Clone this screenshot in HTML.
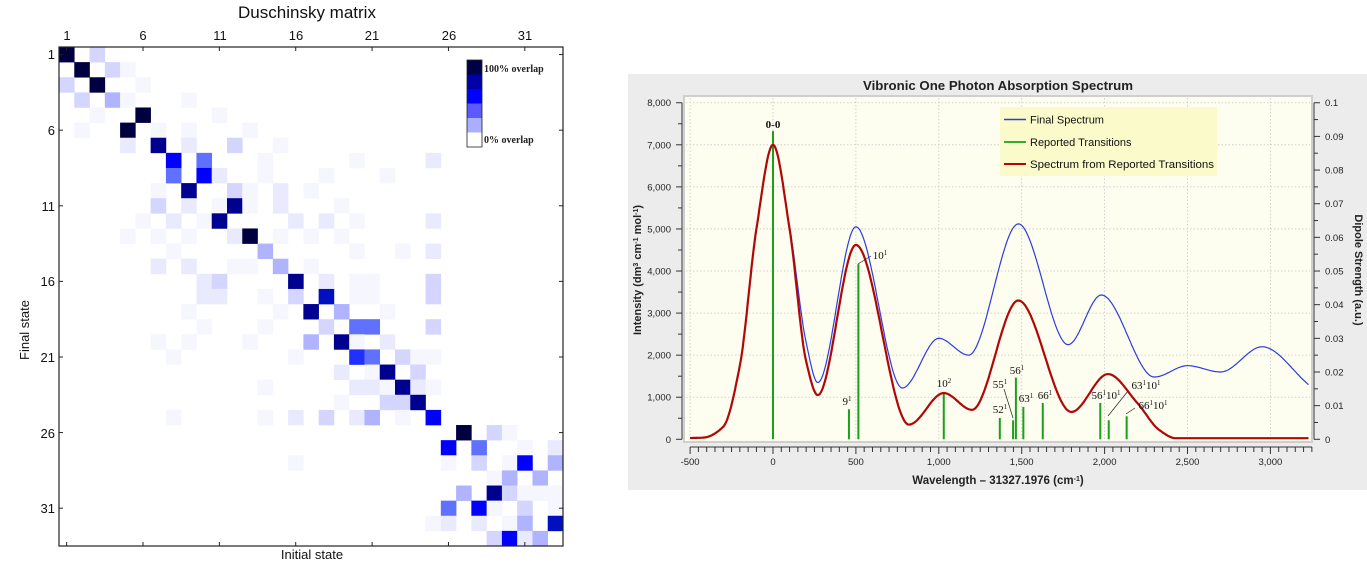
<!DOCTYPE html>
<html><head><meta charset="utf-8"><style>
html,body{margin:0;padding:0;background:#fff;width:1367px;height:563px;overflow:hidden}
svg{position:absolute;left:0;top:0}
</style></head><body>
<svg id="s" width="1367" height="563" viewBox="0 0 1367 563" xmlns="http://www.w3.org/2000/svg" font-family="Liberation Sans, sans-serif">
<text x="307" y="18" font-size="17" text-anchor="middle" fill="#111">Duschinsky matrix</text>
<g font-size="13" fill="#111" text-anchor="middle">
<text x="67" y="40">1</text><text x="143" y="40">6</text><text x="220" y="40">11</text><text x="296" y="40">16</text><text x="372" y="40">21</text><text x="449" y="40">26</text><text x="525" y="40">31</text>
</g>
<g font-size="13" fill="#111" text-anchor="end">
<text x="55" y="59">1</text><text x="55" y="135">6</text><text x="55" y="211">11</text><text x="55" y="286">16</text><text x="55" y="362">21</text><text x="55" y="438">26</text><text x="55" y="513">31</text>
</g>
<text transform="translate(29,330) rotate(-90)" font-size="13" text-anchor="middle" fill="#111">Final state</text>
<text x="312" y="559" font-size="13" text-anchor="middle" fill="#111">Initial state</text>
<g id="cells"></g>
<rect x="59" y="47" width="504" height="499" fill="none" stroke="#222" stroke-width="1.2"/>
<g id="mticks" stroke="#222" stroke-width="1"></g>
<rect x="467" y="60" width="15" height="14.5" fill="#000044"/>
<rect x="467" y="74.5" width="15" height="14.5" fill="#0000a8"/>
<rect x="467" y="89" width="15" height="14.5" fill="#0000ff"/>
<rect x="467" y="103.5" width="15" height="14.5" fill="#5a5aff"/>
<rect x="467" y="118" width="15" height="14.5" fill="#aab0ff"/>
<rect x="467" y="60" width="15" height="87" fill="none" stroke="#222" stroke-width="0.8"/>
<g font-family="Liberation Serif, serif" font-size="10" font-weight="bold" fill="#222">
<text x="484" y="72">100% overlap</text><text x="484" y="143">0% overlap</text>
</g>

<rect x="628" y="74" width="739" height="416" fill="#ececec"/>
<rect x="684" y="96" width="628" height="346" fill="#fdfdf0" stroke="#cfcfcf" stroke-width="2"/>
<text x="998" y="90" font-size="13" font-weight="bold" text-anchor="middle" fill="#222" textLength="270" lengthAdjust="spacingAndGlyphs">Vibronic One Photon Absorption Spectrum</text>
<g id="grid" stroke="#c8c8c8" stroke-width="0.8" stroke-dasharray="1.5,2"></g>
<g id="axes" stroke="#333" stroke-width="1" fill="none"></g>
<g id="ylab" font-size="9.5" fill="#222" text-anchor="end"></g>
<g id="rlab" font-size="9.5" fill="#222"></g>
<g id="xlab" font-size="9.5" fill="#222" text-anchor="middle"></g>
<text transform="translate(641,270) rotate(-90)" font-size="11" font-weight="bold" text-anchor="middle" fill="#222">Intensity (dm<tspan baseline-shift="super" font-size="7">3</tspan> cm<tspan baseline-shift="super" font-size="7">-1</tspan> mol<tspan baseline-shift="super" font-size="7">-1</tspan>)</text>
<text transform="translate(1355,270) rotate(90)" font-size="11" font-weight="bold" text-anchor="middle" fill="#222">Dipole Strength (a.u.)</text>
<text x="998" y="484" font-size="11.5" font-weight="bold" text-anchor="middle" fill="#222">Wavelength – 31327.1976  (cm<tspan baseline-shift="super" font-size="7">-1</tspan>)</text>
<g id="bars" stroke="#1aa01a" stroke-width="2"></g>
<path id="blue" fill="none" stroke="#2b3de0" stroke-width="1.2"/>
<path id="red" fill="none" stroke="#b00808" stroke-width="2.2"/>
<rect x="1000" y="107" width="217" height="69" fill="#fafacb"/>
<line x1="1004" y1="119.5" x2="1026" y2="119.5" stroke="#2b3de0" stroke-width="1.5"/>
<line x1="1004" y1="142" x2="1026" y2="142" stroke="#1aa01a" stroke-width="1.8"/>
<line x1="1004" y1="164" x2="1026" y2="164" stroke="#b00808" stroke-width="2"/>
<g font-size="11" fill="#111">
<text x="1030" y="123.5">Final Spectrum</text>
<text x="1030" y="146">Reported Transitions</text>
<text x="1030" y="168" textLength="184" lengthAdjust="spacingAndGlyphs">Spectrum from Reported Transitions</text>
</g>
<g font-family="Liberation Serif, serif" font-size="11" fill="#111" text-anchor="middle">
<text x="773" y="128" font-weight="bold">0-0</text>
<text x="847" y="405">9<tspan baseline-shift="super" font-size="7">1</tspan></text>
<text x="880" y="259">10<tspan baseline-shift="super" font-size="7">1</tspan></text>
<text x="944" y="387">10<tspan baseline-shift="super" font-size="7">2</tspan></text>
<text x="1000" y="388">55<tspan baseline-shift="super" font-size="7">1</tspan></text>
<text x="1000" y="413">52<tspan baseline-shift="super" font-size="7">1</tspan></text>
<text x="1017" y="374">56<tspan baseline-shift="super" font-size="7">1</tspan></text>
<text x="1026" y="402">63<tspan baseline-shift="super" font-size="7">1</tspan></text>
<text x="1045" y="399">66<tspan baseline-shift="super" font-size="7">1</tspan></text>
<text x="1106" y="399">56<tspan baseline-shift="super" font-size="7">1</tspan>10<tspan baseline-shift="super" font-size="7">1</tspan></text>
<text x="1146" y="389">63<tspan baseline-shift="super" font-size="7">1</tspan>10<tspan baseline-shift="super" font-size="7">1</tspan></text>
<text x="1153" y="409">66<tspan baseline-shift="super" font-size="7">1</tspan>10<tspan baseline-shift="super" font-size="7">1</tspan></text>
</g>
<g stroke="#222" stroke-width="0.7">
<line x1="858" y1="264" x2="871" y2="256"/>
<line x1="1004" y1="389" x2="1013" y2="418"/>
<line x1="1128" y1="391" x2="1108" y2="416"/>
<line x1="1135" y1="408" x2="1126" y2="414"/>
</g>
</svg>
<script>
var NS="http://www.w3.org/2000/svg";
function el(p,t,a){var e=document.createElementNS(NS,t);for(var k in a)e.setAttribute(k,a[k]);document.getElementById(p).appendChild(e);return e;}
var C={N:"#000040",D:"#000090",B:"#0000ff",M:"#6070ff",L:"#b0b4ff",P:"#d4d6ff",F:"#eaeaff",U:"#f6f6ff",K:"#0010c0",E:"#2030ff"};
var cells=[
[1,1,"N"],[1,3,"P"],
[2,2,"N"],[2,4,"P"],[2,5,"U"],
[3,1,"P"],[3,3,"N"],[3,6,"U"],
[4,2,"P"],[4,4,"L"],[4,5,"U"],[4,9,"U"],
[5,3,"U"],[5,6,"N"],[5,11,"U"],
[6,2,"U"],[6,5,"N"],[6,7,"U"],[6,9,"U"],[6,13,"U"],
[7,5,"F"],[7,7,"D"],[7,9,"F"],[7,12,"P"],[7,15,"U"],
[8,8,"B"],[8,10,"M"],[8,14,"U"],[8,20,"U"],[8,25,"F"],
[9,8,"M"],[9,10,"B"],[9,11,"F"],[9,14,"U"],[9,18,"U"],[9,22,"U"],
[10,7,"U"],[10,9,"D"],[10,12,"P"],[10,13,"U"],[10,15,"F"],[10,17,"U"],
[11,7,"P"],[11,9,"F"],[11,11,"U"],[11,12,"D"],[11,13,"U"],[11,15,"F"],[11,19,"U"],
[12,6,"U"],[12,8,"F"],[12,10,"U"],[12,11,"D"],[12,16,"F"],[12,18,"F"],[12,20,"U"],[12,25,"F"],
[13,5,"U"],[13,7,"U"],[13,9,"U"],[13,12,"F"],[13,13,"N"],[13,15,"U"],[13,17,"U"],[13,19,"U"],
[14,8,"U"],[14,14,"L"],[14,20,"U"],[14,23,"U"],[14,25,"F"],
[15,7,"F"],[15,9,"F"],[15,12,"U"],[15,13,"U"],[15,15,"L"],[15,17,"U"],
[16,10,"F"],[16,11,"P"],[16,16,"D"],[16,18,"F"],[16,20,"U"],[16,21,"U"],[16,25,"P"],
[17,10,"F"],[17,11,"F"],[17,14,"U"],[17,16,"P"],[17,18,"K"],[17,20,"U"],[17,21,"U"],[17,25,"P"],
[18,9,"U"],[18,15,"U"],[18,17,"D"],[18,19,"L"],[18,22,"U"],
[19,10,"U"],[19,14,"U"],[19,18,"P"],[19,20,"M"],[19,21,"M"],[19,25,"P"],
[20,7,"U"],[20,9,"U"],[20,13,"U"],[20,17,"L"],[20,19,"D"],[20,20,"U"],[20,22,"F"],
[21,8,"U"],[21,16,"U"],[21,20,"E"],[21,21,"M"],[21,23,"P"],[21,24,"U"],[21,25,"U"],
[22,19,"F"],[22,21,"U"],[22,22,"D"],[22,24,"P"],
[23,14,"U"],[23,20,"F"],[23,21,"F"],[23,22,"U"],[23,23,"D"],[23,24,"F"],[23,25,"U"],
[24,19,"U"],[24,22,"P"],[24,23,"P"],[24,24,"D"],
[25,8,"U"],[25,14,"U"],[25,16,"F"],[25,18,"P"],[25,20,"F"],[25,21,"L"],[25,23,"U"],[25,25,"B"],
[26,27,"N"],[26,29,"P"],[26,30,"U"],
[27,26,"B"],[27,28,"M"],[27,31,"U"],[27,33,"F"],
[28,16,"U"],[28,26,"U"],[28,28,"P"],[28,30,"U"],[28,31,"B"],[28,33,"L"],
[29,29,"U"],[29,30,"L"],[29,32,"L"],
[30,27,"L"],[30,29,"D"],[30,30,"P"],[30,31,"U"],[30,32,"U"],[30,33,"U"],
[31,26,"M"],[31,28,"B"],[31,29,"U"],[31,31,"P"],[31,33,"U"],
[32,25,"U"],[32,26,"F"],[32,28,"F"],[32,30,"U"],[32,31,"L"],[32,33,"K"],
[33,29,"P"],[33,30,"B"],[33,31,"F"],[33,32,"L"]];
var cw=504/33,ch=499/33;
cells.forEach(function(c){el("cells","rect",{x:(59+(c[1]-1)*cw).toFixed(2),y:(47+(c[0]-1)*ch).toFixed(2),width:(cw+0.3).toFixed(2),height:(ch+0.3).toFixed(2),fill:C[c[2]]});});
for(var i=0;i<7;i++){var k=1+5*i;var x=59+(k-0.5)*cw,y=47+(k-0.5)*ch;
el("mticks","line",{x1:x,y1:47,x2:x,y2:51});el("mticks","line",{x1:x,y1:546,x2:x,y2:542});
el("mticks","line",{x1:59,y1:y,x2:63,y2:y});el("mticks","line",{x1:563,y1:y,x2:559,y2:y});}
function X(v){return 773+v*0.1658;}function Y(v){return 439.3-v*0.04207;}
for(var v=1000;v<=8000;v+=1000)el("grid","line",{x1:686,x2:1310,y1:Y(v),y2:Y(v)});
for(var v=-500;v<=3000;v+=500)el("grid","line",{x1:X(v),x2:X(v),y1:98,y2:440});
el("axes","line",{x1:682,y1:Y(8000),x2:682,y2:Y(0)});
el("axes","line",{x1:1314,y1:Y(8000),x2:1314,y2:Y(0)});
el("axes","line",{x1:X(-500),y1:447,x2:X(3250),y2:447});
for(var v=0;v<=8000;v+=500){var l=v%1000==0?6:4;el("axes","line",{x1:682-l,x2:682,y1:Y(v),y2:Y(v)});
if(v%1000==0){var t=el("ylab","text",{x:671,y:Y(v)+3.5});t.textContent=v==0?"0":(v/1000)+",000";}}
for(var k=0;k<=20;k++){var yy=Y(k*400);var l=k%2==0?6:4;el("axes","line",{x1:1314,x2:1314+l,y1:yy,y2:yy});
if(k%2==0){var kk=k/2;var r=el("rlab","text",{x:1325,y:yy+3.5});r.textContent=kk==0?"0":(kk==10?"0.1":"0.0"+kk);}}
for(var v=-500;v<=3250;v+=50){var l=v%500==0?7:5;el("axes","line",{x1:X(v),x2:X(v),y1:447,y2:447+l});
if(v%500==0&&v<=3000){var t=el("xlab","text",{x:X(v),y:465});t.textContent=v<0?"-500":(v>=1000?(v/1000|0)+","+("00"+v%1000).slice(-3):v);}}
var bars=[[0,7326],[458,714],[515,4163],[1030,1126],[1368,507],[1448,452],[1465,1467],[1510,769],[1627,864],[1974,864],[2025,452],[2133,547]];
bars.forEach(function(b){el("bars","line",{x1:X(b[0]),x2:X(b[0]),y1:Y(0),y2:Y(b[1])});});
function mono(pts){var n=pts.length,xs=pts.map(p=>p[0]),ys=pts.map(p=>p[1]),d=[],m=[];
for(var i=0;i<n-1;i++)d.push((ys[i+1]-ys[i])/(xs[i+1]-xs[i]));
m[0]=d[0];m[n-1]=d[n-2];
for(var i=1;i<n-1;i++){if(d[i-1]*d[i]<=0)m[i]=0;else{var w1=2*(xs[i+1]-xs[i])+(xs[i]-xs[i-1]),w2=(xs[i+1]-xs[i])+2*(xs[i]-xs[i-1]);m[i]=(w1+w2)/(w1/d[i-1]+w2/d[i]);}}
var s="";
for(var i=0;i<n-1;i++){var h=xs[i+1]-xs[i];var steps=Math.max(2,Math.ceil(h/6));
for(var j=(i==0?0:1);j<=steps;j++){var t=j/steps,t2=t*t,t3=t2*t;
var y=(2*t3-3*t2+1)*ys[i]+(t3-2*t2+t)*h*m[i]+(-2*t3+3*t2)*ys[i+1]+(t3-t2)*h*m[i+1];var x=xs[i]+t*h;
s+=(s?" L":"M")+X(x).toFixed(1)+","+Y(y).toFixed(1);}}
return s;}
var red=[[-500,30],[-420,40],[-300,300],[-200,1750],[-100,5000],[0,7000],[100,5000],[200,1850],[270,1050],[500,4620],[820,350],[1030,1100],[1200,700],[1480,3300],[1800,650],[2020,1550],[2200,850],[2330,220],[2430,25],[3230,25]];
var blue=[[-500,30],[-420,40],[-300,300],[-200,1750],[-100,5000],[0,7000],[100,5050],[200,2300],[270,1350],[500,5050],[780,1220],[1000,2400],[1180,2000],[1480,5120],[1780,2250],[1980,3430],[2300,1480],[2500,1750],[2700,1600],[2950,2200],[3230,1300]];
document.getElementById("red").setAttribute("d",mono(red));
document.getElementById("blue").setAttribute("d",mono(blue));
</script>
</body></html>
